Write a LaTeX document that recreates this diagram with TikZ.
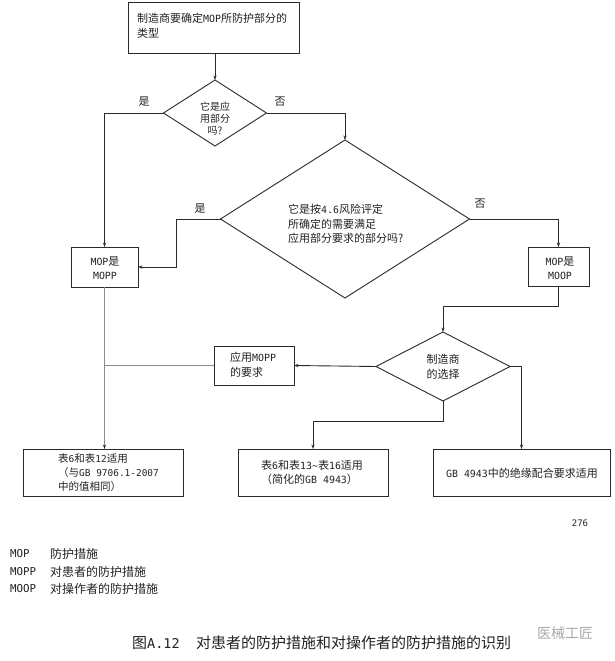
\documentclass[tikz,border=0pt]{standalone}
\usepackage{fontspec}
\setmainfont{Noto Sans CJK SC}
\newfontfamily\latfont[Scale=0.9]{DejaVu Sans Mono}
\newcommand\mylat[1]{{\latfont #1}}
\usetikzlibrary{shapes.geometric,arrows.meta}
\definecolor{ln}{HTML}{2A2A2A}
\definecolor{lg}{HTML}{8C8C8C}
\definecolor{wm}{HTML}{A8A8A8}
\definecolor{tx}{HTML}{222222}
\begin{document}
\begin{tikzpicture}[x=1pt,y=-1pt,
  box/.style={draw=ln,line width=0.95pt,inner sep=0pt,outer sep=0pt},
  dia/.style={diamond,draw=ln,line width=0.9pt,inner sep=0pt,outer sep=0pt},
  txt/.style={inner sep=0pt,text=tx,font=\fontsize{11}{14.5}\selectfont},
  lab/.style={inner sep=0pt,text=tx,font=\fontsize{11}{13}\selectfont},
  leg/.style={inner sep=0pt,text=tx,anchor=west,font=\fontsize{12}{14}\selectfont},
  conn/.style={draw=ln,line width=0.9pt,-{Stealth[length=4.5pt,width=3.2pt]}},
  conng/.style={draw=lg,line width=1pt,-{Stealth[length=4.5pt,width=3.2pt,color=ln]}},
  plainline/.style={draw=lg,line width=1pt}]
\useasboundingbox (0,0) rectangle (615,661);
\fill[white] (0,0) rectangle (615,661);

% shapes
\node[box,minimum width=171pt,minimum height=51pt] (top) at (214,27.5) {};
\node[dia,minimum width=103pt,minimum height=66pt] (d1) at (215,113) {};
\node[dia,minimum width=249pt,minimum height=158pt] (d2) at (345,219) {};
\node[box,minimum width=67pt,minimum height=40pt] (mopp) at (104.5,267) {};
\node[box,minimum width=61pt,minimum height=39pt] (moop) at (558.5,266.5) {};
\node[dia,minimum width=134pt,minimum height=69pt] (d3) at (443,366.5) {};
\node[box,minimum width=80pt,minimum height=39pt] (req) at (254,365.5) {};
\node[box,minimum width=160pt,minimum height=47pt] (b1) at (103,472.5) {};
\node[box,minimum width=150pt,minimum height=47pt] (b2) at (313,472.5) {};
\node[box,minimum width=177pt,minimum height=47pt] (b3) at (521.5,472.5) {};

% texts
\node[txt,align=left,anchor=west] (ttop) at (137,26) {制造商要确定\mylat{MOP}所防护部分的\\类型};
\node[txt,align=center,font=\fontsize{10}{12}\selectfont] (td1) at (215,119) {它是应\\用部分\\吗?};
\node[txt,align=left,anchor=west] (td2) at (288,224) {它是按\mylat{4.6}风险评定\\所确定的需要满足\\应用部分要求的部分吗?};
\node[txt,align=center] (tmopp) at (105,268) {\mylat{MOP}是\\\mylat{MOPP}};
\node[txt,align=center] (tmoop) at (560,268) {\mylat{MOP}是\\\mylat{MOOP}};
\node[txt,align=left,anchor=west] (treq) at (230,365) {应用\mylat{MOPP}\\的要求};
\node[txt,align=center] (td3) at (443,367) {制造商\\的选择};
\node[txt,align=left,anchor=west,font=\fontsize{10.5}{14}\selectfont] (tb1) at (58,473) {表\mylat{6}和表\mylat{12}适用\\（与\mylat{GB 9706.1-2007}\\中的值相同）};
\node[txt,align=left,anchor=west] (tb2) at (261,472.5) {表\mylat{6}和表\mylat{13\textasciitilde}表\mylat{16}适用\\（简化的\mylat{GB 4943}）};
\node[txt] (tb3) at (522,473) {\mylat{GB 4943}中的绝缘配合要求适用};

% branch labels
\node[lab] (y1) at (144,102) {是};
\node[lab] (n1) at (280,102) {否};
\node[lab] (y2) at (200,209) {是};
\node[lab] (n2) at (480,204) {否};

% connectors
\coordinate (k1) at (176,267);
\coordinate (k2) at (0,306);
\coordinate (k3) at (0,421);
\draw[conn] (d1.north |- top.south) -- (d1.north);
\draw[conn] (d1.west) -| (mopp.north);
\draw[conn] (d1.east) -| (d2.north);
\draw[conn] (d2.west) -| (k1) -- (mopp.east);
\draw[conn] (d2.east) -| (moop.north);
\draw[conn] (moop.south) -- (moop.south |- k2) -| (d3.north);
\draw[conn] (d3.west) -- (req.east);
\draw[conn] (d3.south) -- (d3.south |- k3) -| (b2.north);
\draw[conn] (d3.east) -| (b3.north);
\draw[conng] (mopp.south) -- (mopp.south |- b1.north);
\draw[plainline] (mopp.south |- req.west) -- (req.west);

% page number
\node[txt,font=\fontsize{10}{12}\selectfont] (pg) at (580,523) {\mylat{276}};

% legend
\node[leg] (l1a) at (10,554) {\mylat{MOP}};
\node[leg] (l1b) at (50,554) {防护措施};
\node[leg] (l2a) at (10,572) {\mylat{MOPP}};
\node[leg] (l2b) at (50,572) {对患者的防护措施};
\node[leg] (l3a) at (10,589) {\mylat{MOOP}};
\node[leg] (l3b) at (50,589) {对操作者的防护措施};

% caption
\node[inner sep=0pt,text=tx,anchor=west,font=\fontsize{15}{17}\selectfont] (cap) at (132,643) {图\mylat{A.12}\hspace{1.1em}对患者的防护措施和对操作者的防护措施的识别};
\node[inner sep=0pt,text=wm,anchor=west,font=\fontsize{14}{16}\selectfont] (wmk) at (537,633) {医械工匠};
\end{tikzpicture}
\end{document}
